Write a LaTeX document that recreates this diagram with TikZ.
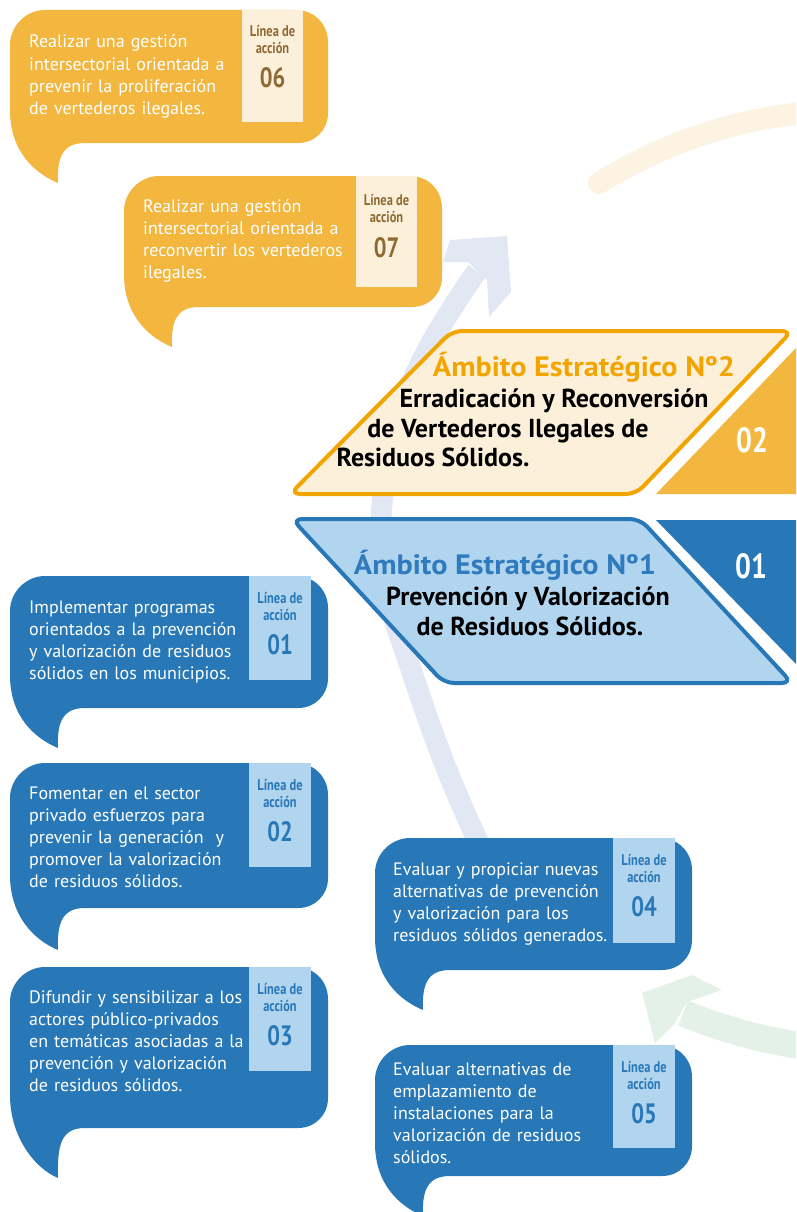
\documentclass[tikz,border=0pt]{standalone}
\usepackage{fontspec}
\setmainfont{PT Sans}
\newfontfamily\condfont[FakeStretch=0.8]{PT Sans}
\newfontfamily\widefont[FakeStretch=1.08]{PT Sans}
\definecolor{orangeb}{HTML}{F3B63F}
\definecolor{creamb}{HTML}{FDF0DB}
\definecolor{brownt}{HTML}{8D6A33}
\definecolor{orangeT}{HTML}{F2A500}
\definecolor{blueb}{HTML}{2878B8}
\definecolor{lblue}{HTML}{B2D5EF}
\definecolor{blueT}{HTML}{2F7BBD}
\definecolor{arcblue}{HTML}{E1E8F3}
\definecolor{creamarc}{HTML}{FDF3E2}
\definecolor{greenarc}{HTML}{E4F1E8}
\newcommand\bubpath[3]{(75,#2) -- (#1-30,#2) .. controls (#1-13,#2) and (#1,#2-13) .. (#1,#2-30) -- (#1,32) .. controls (#1,14) and (#1-14,0) .. (#1-32,0) -- (35,0) .. controls (16,0) and (0,16) .. (0,35) -- (0,#2-33) .. controls (0,#2+8) and (24,#2+#3-10) .. (48,#2+#3) .. controls (47,#2+15) and (52,#2) .. (75,#2) -- cycle}
\begin{document}
\begin{tikzpicture}[x=1pt,y=-1pt,
  bubtext/.style={anchor=base west, inner sep=0, text width=280, align=left, font=\fontsize{18}{22.2}\selectfont, text=white},
  lab/.style={anchor=base, inner sep=0, font=\condfont\bfseries\fontsize{15.5}{17}\selectfont},
  num/.style={anchor=base, inner sep=0, font=\condfont\bfseries\fontsize{28}{30}\selectfont},
  bignum/.style={anchor=base, inner sep=0, text=white, font=\condfont\bfseries\fontsize{35}{38}\selectfont},
  head/.style={anchor=base, inner sep=0, font=\bfseries\fontsize{26}{30}\selectfont},
  title/.style={anchor=base, inner sep=0, font=\widefont\bfseries\fontsize{28}{32}\selectfont}]
\useasboundingbox (0,0) rectangle (796,1212);
\clip (0,0) rectangle (796,1212);
% background arcs
\draw[arcblue, line width=21] plot[smooth, tension=0.7] coordinates {(482,850) (447,770) (412,672) (384,580) (382,505) (398,420) (430,345) (477,271)};
\fill[arcblue] (443,262) -- (450,240) -- (507,236) -- (511,292) -- (489,317) -- (487,280) -- (468,262) -- cycle;
\draw[creamarc, line width=22, line cap=round] (599,183) .. controls (660,145) and (730,120) .. (810,112);
\draw[greenarc, line width=27] (810,1047) .. controls (760,1040) and (720,1028) .. (683,1013);
\fill[greenarc] (642,993) -- (692,975) -- (722,990) -- (687,1002) -- (675,1023) -- (655,1043) -- cycle;
% Ambito 2
\filldraw[fill=creamb, draw=orangeT, line width=4, rounded corners=10] (290,494) -- (452,331) -- (792,331) -- (636,494) -- cycle;
\fill[orangeb] (656,494) -- (796,348) -- (796,494) -- cycle;
\node[bignum] (n02) at (752,452) {02};
\node[title, text=orangeT] (a2t) at (584,376) {Ámbito Estratégico Nº2};
\node[head] (a2a) at (554,407) {Erradicación y Reconversión};
\node[head] (a2b) at (508,437) {de Vertederos Ilegales de};
\node[head] (a2c) at (433,466) {Residuos Sólidos.};
% Ambito 1
\filldraw[fill=lblue, draw=blueb, line width=4, rounded corners=10] (292,519) -- (640,519) -- (792,683) -- (444,683) -- cycle;
\fill[blueb] (656,520) -- (796,520) -- (796,664) -- cycle;
\node[bignum] (n01) at (751,578) {01};
\node[title, text=blueT] (a1t) at (505,574) {Ámbito Estratégico Nº1};
\node[head] (a1a) at (528,605) {Prevención y Valorización};
\node[head] (a1b) at (530,635) {de Residuos Sólidos.};
% bubble 06
\begin{scope}[shift={(10,10)}]
\fill[orangeb] \bubpath{318}{133}{40};
\fill[creamb] (232,0) rectangle (293,112);
\node[lab, text=brownt] (l06a) at (262.5,27) {Línea de};
\node[lab, text=brownt] (l06b) at (262.5,44) {acción};
\node[num, text=brownt] (l06n) at (262.5,78) {06};
\node[bubtext] (t06) at (19,38) {Realizar una gestión\\intersectorial orientada a\\prevenir la proliferación\\de vertederos ilegales.};
\end{scope}
% bubble 07
\begin{scope}[shift={(124,176)}]
\fill[orangeb] \bubpath{318}{131}{40};
\fill[creamb] (232,0) rectangle (293,111);
\node[lab, text=brownt] (l07a) at (262.5,29) {Línea de};
\node[lab, text=brownt] (l07b) at (262.5,46) {acción};
\node[num, text=brownt] (l07n) at (262.5,81) {07};
\node[bubtext] (t07) at (19,36) {Realizar una gestión\\intersectorial orientada a\\reconvertir los vertederos\\ilegales.};
\end{scope}
% bubble 01
\begin{scope}[shift={(10,576)}]
\fill[blueb] \bubpath{318}{132}{40};
\fill[lblue] (239,0) rectangle (301,104);
\node[lab, text=blueb] (l01a) at (270,27) {Línea de};
\node[lab, text=blueb] (l01b) at (270,44) {acción};
\node[num, text=blueb] (l01n) at (270,78) {01};
\node[bubtext] (t01) at (19,37) {Implementar programas\\orientados a la prevención\\y valorización de residuos\\sólidos en los municipios.};
\end{scope}
% bubble 02
\begin{scope}[shift={(10,763)}]
\fill[blueb] \bubpath{318}{145}{42};
\fill[lblue] (239,0) rectangle (301,104);
\node[lab, text=blueb] (l02a) at (270,27) {Línea de};
\node[lab, text=blueb] (l02b) at (270,44) {acción};
\node[num, text=blueb] (l02n) at (270,78) {02};
\node[bubtext] (t02) at (19,36) {Fomentar en el sector\\privado esfuerzos para\\prevenir la generación \ y\\promover la valorización\\de residuos sólidos.};
\end{scope}
% bubble 03
\begin{scope}[shift={(10,967)}]
\fill[blueb] \bubpath{318}{161}{50};
\fill[lblue] (239,0) rectangle (301,104);
\node[lab, text=blueb] (l03a) at (270,27) {Línea de};
\node[lab, text=blueb] (l03b) at (270,44) {acción};
\node[num, text=blueb] (l03n) at (270,78) {03};
\node[bubtext] (t03) at (19,36) {Difundir y sensibilizar a los\\actores público-privados\\en temáticas asociadas a la\\prevención y valorización\\de residuos sólidos.};
\end{scope}
% bubble 04
\begin{scope}[shift={(375,838)}]
\fill[blueb] \bubpath{317}{132}{40};
\fill[lblue] (238,0) rectangle (300,105);
\node[lab, text=blueb] (l04a) at (269,27) {Línea de};
\node[lab, text=blueb] (l04b) at (269,44) {acción};
\node[num, text=blueb] (l04n) at (269,78) {04};
\node[bubtext] (t04) at (18,37) {Evaluar y propiciar nuevas\\alternativas de prevención\\y valorización para los\\residuos sólidos generados.};
\end{scope}
% bubble 05
\begin{scope}[shift={(375,1045)}]
\fill[blueb] \bubpath{317}{131}{40};
\fill[lblue] (238,0) rectangle (300,103);
\node[lab, text=blueb] (l05a) at (269,27) {Línea de};
\node[lab, text=blueb] (l05b) at (269,44) {acción};
\node[num, text=blueb] (l05n) at (269,78) {05};
\node[bubtext] (t05) at (18,30) {Evaluar alternativas de\\emplazamiento de\\instalaciones para la\\valorización de residuos\\sólidos.};
\end{scope}
\end{tikzpicture}
\end{document}
